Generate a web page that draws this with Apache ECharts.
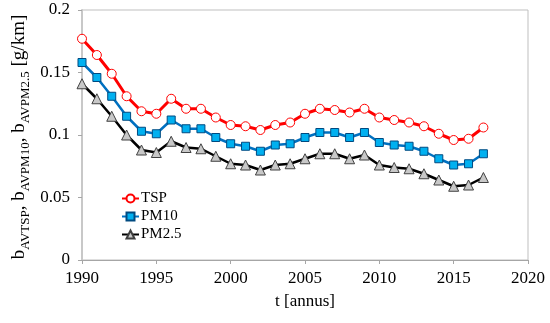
<!DOCTYPE html>
<html><head><meta charset="utf-8">
<script src="https://cdn.jsdelivr.net/npm/echarts@6/dist/echarts.min.js"></script>
<style>html,body{margin:0;padding:0;background:#fff}#c{width:550px;height:323px}</style>
</head><body><div id="c"></div>
<script>
const years = [1990,1991,1992,1993,1994,1995,1996,1997,1998,1999,2000,2001,2002,2003,2004,2005,2006,2007,2008,2009,2010,2011,2012,2013,2014,2015,2016,2017];
const tsp  = [0.177,0.164,0.149,0.131,0.119,0.117,0.129,0.121,0.121,0.114,0.108,0.107,0.104,0.108,0.110,0.117,0.121,0.120,0.118,0.121,0.114,0.112,0.110,0.107,0.101,0.096,0.097,0.106];
const pm10 = [0.158,0.146,0.131,0.115,0.103,0.101,0.112,0.105,0.105,0.098,0.093,0.091,0.087,0.092,0.093,0.098,0.102,0.102,0.098,0.102,0.094,0.092,0.091,0.087,0.081,0.076,0.077,0.085];
const pm25 = [0.141,0.129,0.115,0.100,0.088,0.086,0.095,0.090,0.089,0.083,0.077,0.076,0.072,0.076,0.077,0.081,0.085,0.085,0.081,0.084,0.076,0.074,0.073,0.069,0.064,0.059,0.060,0.066];
const seriesNames = ['TSP','PM10','PM2.5'];
const xTitle = 't [annus]';

const FONT = 'Liberation Serif';
const pair = arr => years.map((y,i)=>[y,arr[i]]);
const chart = echarts.init(document.getElementById('c'));
chart.setOption({
  animation:false,
  textStyle:{fontFamily:FONT},
  grid:{left:82,right:22,top:10,bottom:63,show:true,borderColor:'#bfbfbf',borderWidth:1},
  legend:{
    orient:'vertical',left:116,top:186,itemGap:3,itemWidth:17,itemHeight:10,
    textStyle:{fontFamily:FONT,fontSize:15,color:'#000',padding:[0,0,0,-3]},
    data:seriesNames
  },
  xAxis:{
    type:'value',min:1990,max:2020,interval:5,
    name:xTitle,nameLocation:'middle',nameGap:33,
    nameTextStyle:{fontFamily:FONT,fontSize:17,color:'#000'},
    axisLine:{lineStyle:{color:'#a6a6a6',width:1}},
    axisTick:{show:true,length:4,inside:false,lineStyle:{color:'#a6a6a6'}},
    axisLabel:{fontFamily:FONT,fontSize:17,color:'#000',margin:10,formatter:v=>String(v)},
    splitLine:{show:false}
  },
  yAxis:{
    type:'value',min:0,max:0.2,interval:0.05,
    axisLine:{show:true,lineStyle:{color:'#c8c8c8',width:2}},
    axisTick:{show:true,length:4,lineStyle:{color:'#a6a6a6'}},
    axisLabel:{fontFamily:FONT,fontSize:17,color:'#000',margin:12},
    splitLine:{show:false}
  },
  graphic:[{
    type:'text',x:17,y:137,rotation:Math.PI/2,
    style:{
      text:'{m|b}{s|AVTSP}{m|, b}{s|AVPM10}{m|, b}{s|AVPM2.5}{m| [g/km]}',
      align:'center',verticalAlign:'middle',
      rich:{
        m:{fontFamily:FONT,fontSize:19,fill:'#000',lineHeight:23,verticalAlign:'bottom'},
        s:{fontFamily:FONT,fontSize:13,fill:'#000',lineHeight:23,verticalAlign:'bottom',padding:[0,0,-4,0]}
      }
    }
  }],
  series:[
    {name:seriesNames[0],type:'line',data:pair(tsp),symbol:'circle',symbolSize:9,
     lineStyle:{color:'#ff0000',width:3},itemStyle:{color:'#ffffff',borderColor:'#ff0000',borderWidth:1}},
    {name:seriesNames[1],type:'line',data:pair(pm10),symbol:'rect',symbolSize:8,
     lineStyle:{color:'#0070c0',width:2.5},itemStyle:{color:'#00b0f0',borderColor:'#004a80',borderWidth:1}},
    {name:seriesNames[2],type:'line',data:pair(pm25),symbol:'triangle',symbolSize:10,
     lineStyle:{color:'#000000',width:2.5},itemStyle:{color:'#c8c8c8',borderColor:'#404040',borderWidth:1}}
  ]
});
</script></body></html>
